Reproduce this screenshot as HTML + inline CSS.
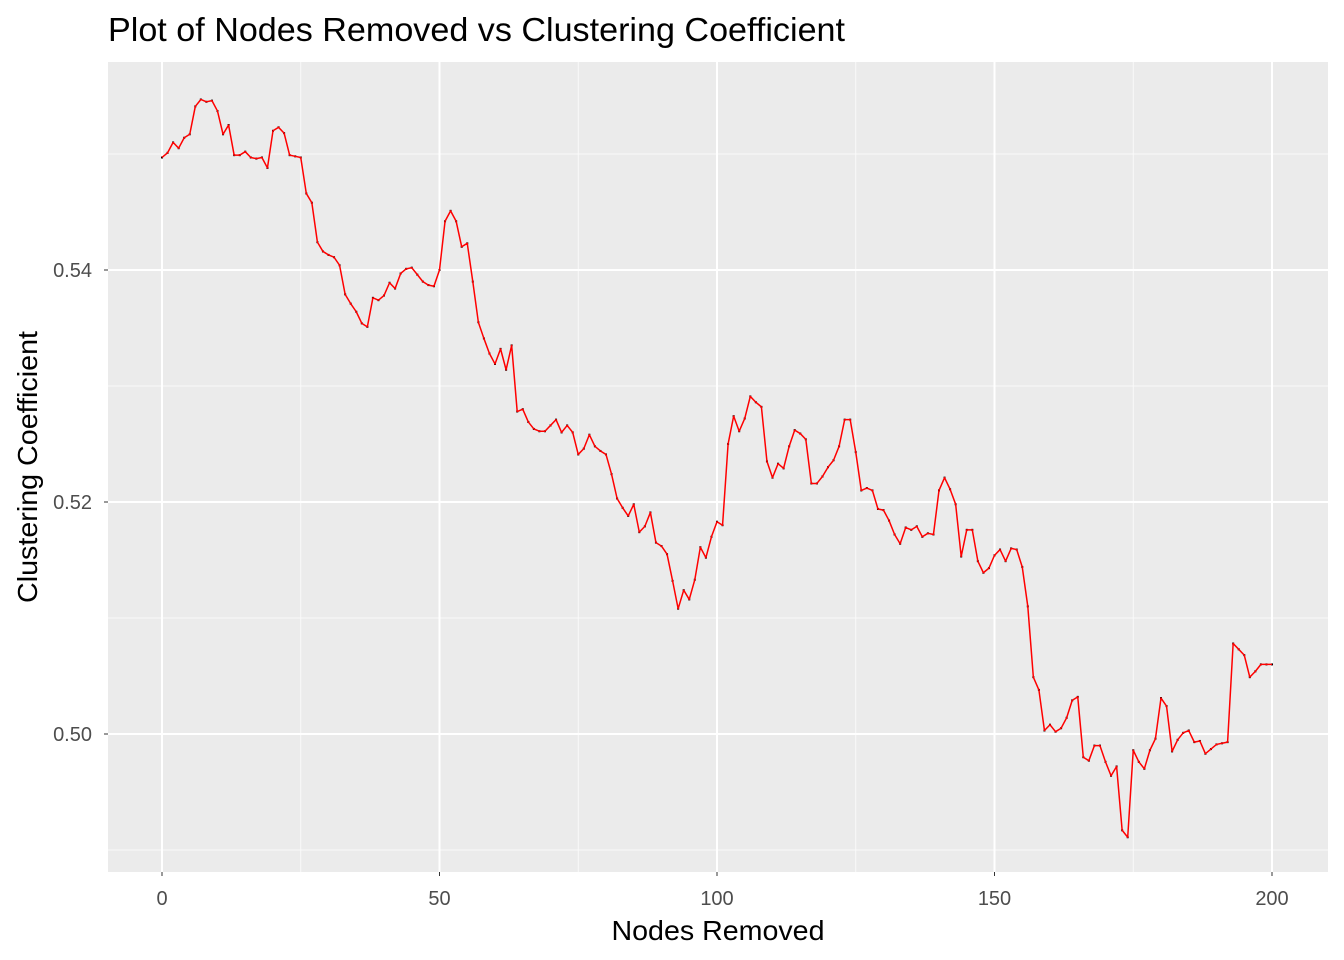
<!DOCTYPE html>
<html><head><meta charset="utf-8"><style>
html,body{margin:0;padding:0;background:#fff;}
svg{display:block;font-family:"Liberation Sans",Arial,sans-serif;}
</style></head><body>
<svg id="chart" width="1344" height="960" viewBox="0 0 1344 960" xmlns="http://www.w3.org/2000/svg">
<text x="108" y="41" font-size="33" fill="#000" textLength="737" lengthAdjust="spacingAndGlyphs">Plot of Nodes Removed vs Clustering Coefficient</text>
<rect x="108" y="62" width="1220" height="810" fill="#ebebeb"/>
<g id="grid"></g>
<g id="ticks"></g>
<g id="series"></g>
<text x="718" y="940" font-size="28" text-anchor="middle" fill="#000" textLength="213" lengthAdjust="spacingAndGlyphs">Nodes Removed</text>
<text transform="translate(37,467) rotate(-90)" font-size="28" text-anchor="middle" fill="#000" textLength="272" lengthAdjust="spacingAndGlyphs">Clustering Coefficient</text>
</svg>
<script>
const xTicks = [0, 50, 100, 150, 200];
const xMinor = [25, 75, 125, 175];
const yTicks = [0.50, 0.52, 0.54];
const yTickLabels = ["0.50", "0.52", "0.54"];
const yMinor = [0.49, 0.51, 0.53, 0.55];
const coef = [0.5497,0.5501,0.5510,0.5505,0.5514,0.5517,0.5541,0.5547,0.5545,0.5546,
0.5537,0.5517,0.5525,0.5499,0.5499,0.5502,0.5497,0.5496,0.5497,0.5488,
0.5520,0.5523,0.5518,0.5499,0.5498,0.5497,0.5466,0.5458,0.5424,0.5416,
0.5413,0.5411,0.5404,0.5379,0.5371,0.5364,0.5354,0.5351,0.5376,0.5374,
0.5378,0.5389,0.5384,0.5397,0.5401,0.5402,0.5396,0.5390,0.5387,0.5386,
0.5400,0.5442,0.5451,0.5442,0.5420,0.5423,0.5390,0.5355,0.5341,0.5328,
0.5319,0.5332,0.5314,0.5335,0.5278,0.5280,0.5269,0.5263,0.5261,0.5261,
0.5266,0.5271,0.5260,0.5266,0.5260,0.5241,0.5246,0.5258,0.5248,0.5244,
0.5241,0.5224,0.5203,0.5195,0.5188,0.5198,0.5174,0.5179,0.5191,0.5165,
0.5162,0.5155,0.5132,0.5108,0.5124,0.5116,0.5133,0.5161,0.5152,0.5170,
0.5183,0.5180,0.5250,0.5274,0.5261,0.5272,0.5291,0.5286,0.5282,0.5235,
0.5221,0.5233,0.5229,0.5248,0.5262,0.5259,0.5254,0.5216,0.5216,0.5222,
0.5230,0.5236,0.5248,0.5271,0.5271,0.5243,0.5210,0.5212,0.5210,0.5194,
0.5193,0.5184,0.5172,0.5164,0.5178,0.5176,0.5179,0.5170,0.5173,0.5172,
0.5210,0.5221,0.5211,0.5198,0.5153,0.5176,0.5176,0.5149,0.5139,0.5143,
0.5154,0.5159,0.5149,0.5160,0.5159,0.5144,0.5110,0.5049,0.5038,0.5003,
0.5008,0.5002,0.5005,0.5014,0.5029,0.5032,0.4980,0.4977,0.4990,0.4990,
0.4976,0.4964,0.4972,0.4917,0.4911,0.4986,0.4976,0.4970,0.4986,0.4996,
0.5031,0.5024,0.4985,0.4995,0.5001,0.5003,0.4993,0.4994,0.4983,0.4987,
0.4991,0.4992,0.4993,0.5078,0.5073,0.5068,0.5049,0.5054,0.5060,0.5060,0.5060];

const NS = "http://www.w3.org/2000/svg";
const PL = 108, PR = 1328, PT = 62, PB = 872;
function xs(v){ return 162 + (v - 0) * (1272 - 162) / 200; }
function ys(v){ return 734 - (v - 0.50) * (734 - 270) / 0.04; }
function mk(tag, attrs, parent){ const e = document.createElementNS(NS, tag); for (const k in attrs) e.setAttribute(k, attrs[k]); parent.appendChild(e); return e; }

const grid = document.getElementById('grid');
const ticks = document.getElementById('ticks');
yMinor.forEach(v => { const y = ys(v); if (y < PT || y > PB) return;
  const l = mk('line', {x1: PL, x2: PR, y1: y, y2: y, stroke: '#fafafa', 'stroke-width': 1}, grid);
  
   });
xMinor.forEach(v => { const x = xs(v);
  const l = mk('line', {x1: x, x2: x, y1: PT, y2: PB, stroke: '#fafafa', 'stroke-width': 1}, grid);
  
   });
yTicks.forEach((v, i) => { const y = ys(v);
  const l = mk('line', {x1: PL, x2: PR, y1: y, y2: y, stroke: '#fff', 'stroke-width': 2}, grid);
  
  
  const t = mk('line', {x1: PL - 4, x2: PL, y1: y, y2: y, stroke: '#333', 'stroke-width': 1}, ticks);
  
  
  const tx = mk('text', {x: 92, y: y + 7, 'font-size': 20, 'text-anchor': 'end', fill: '#4d4d4d'}, ticks);
  tx.textContent = yTickLabels[i];
  
   });
xTicks.forEach(v => { const x = xs(v);
  const l = mk('line', {x1: x, x2: x, y1: PT, y2: PB, stroke: '#fff', 'stroke-width': 2}, grid);
  
  
  const t = mk('line', {x1: x, x2: x, y1: PB, y2: PB + 4, stroke: '#333', 'stroke-width': 1}, ticks);
  
  
  const tx = mk('text', {x: x, y: 905, 'font-size': 20, 'text-anchor': 'middle', fill: '#4d4d4d'}, ticks);
  tx.textContent = String(v);
  
   });

const series = document.getElementById('series');
const pts = coef.map((v, i) => xs(i).toFixed(2) + ',' + ys(v).toFixed(2)).join(' ');
coef.forEach((v, i) => {
  const c = mk('rect', {x: xs(i) - 1, y: ys(v) - 1, width: 2, height: 2, fill: '#000'}, series);
  
  
});
const pl = mk('polyline', {points: pts, fill: 'none', stroke: '#ff0000', 'stroke-width': 1.5, 'stroke-linejoin': 'round'}, series);


</script>
</body></html>
